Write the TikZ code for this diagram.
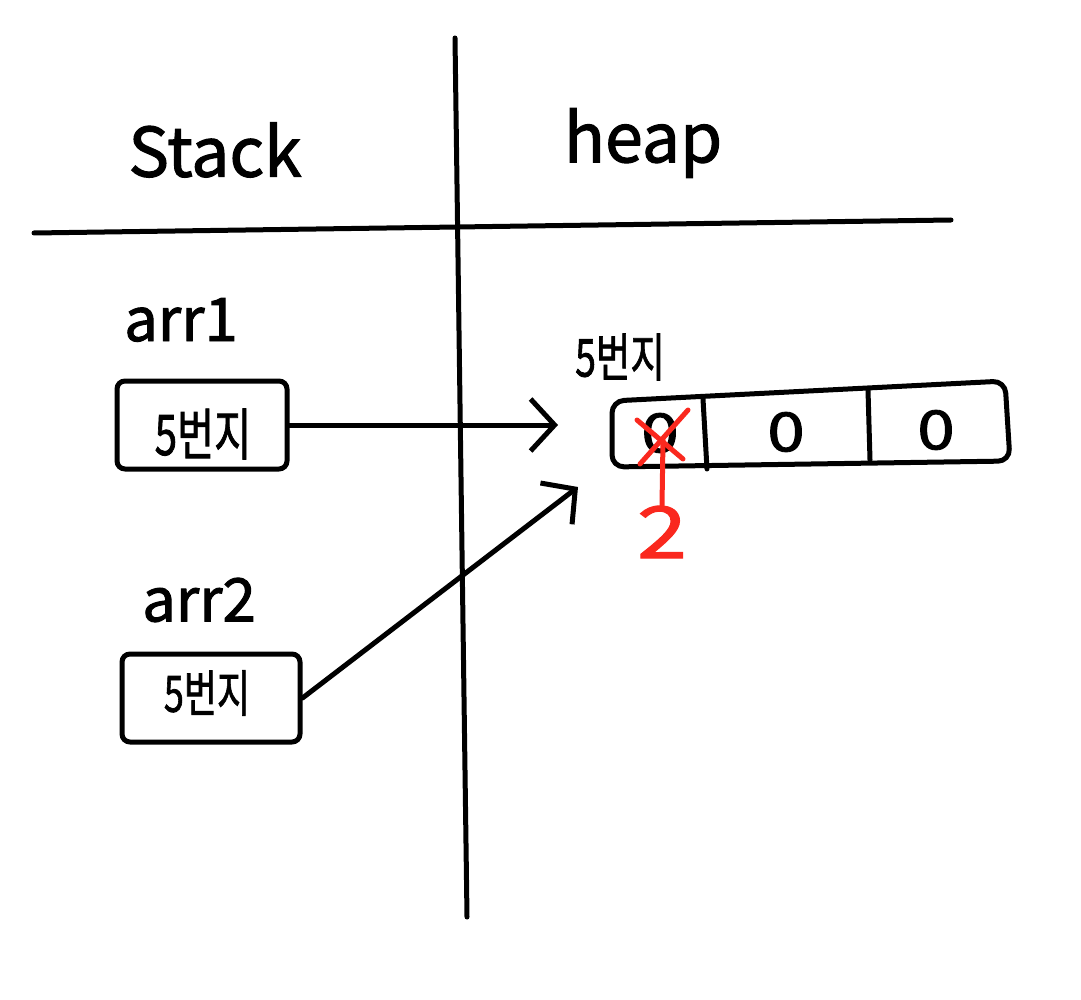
\documentclass[tikz,border=0pt]{standalone}
\usepackage{fontspec}
\usepackage{graphicx}
\setmainfont{Noto Sans CJK KR}
\newfontfamily\hand[FakeBold=1.6]{Noto Sans CJK KR}
\usetikzlibrary{arrows.meta}
\definecolor{handred}{RGB}{250,40,30}
\tikzset{
  ink/.style={line width=5pt, line cap=round, line join=round, black},
  cellbox/.style={draw, ink, rounded corners=8pt, inner sep=0pt},
  bigtxt/.style={font=\hand\fontsize{68}{76}\selectfont, inner sep=0pt},
  lbl/.style={font=\hand\fontsize{60}{66}\selectfont, inner sep=0pt},
  addr/.style={font=\hand\fontsize{56}{60}\selectfont, inner sep=0pt},
  zero/.style={font=\hand\fontsize{54}{58}\selectfont, inner sep=0pt},
  ptr/.style={ink, -{Straight Barb[length=24pt,width=52pt,line width=5pt]}},
  redink/.style={line width=5pt, line cap=round, handred},
}
\newcommand{\narrow}[1]{\scalebox{0.72}[1]{#1}}
\newcommand{\wide}[1]{\scalebox{1.25}[1]{#1}}
\begin{document}
\begin{tikzpicture}[x=1pt,y=-1pt]
\useasboundingbox (0,0) rectangle (1081,1000);
% frame lines
\coordinate (vtop) at (455,38);
\coordinate (vbot) at (467,917);
\coordinate (hl) at (34,233);
\coordinate (hr) at (951,220);
\draw[ink] (vtop) -- (vbot);
\draw[ink] (hl) -- (hr);
% titles
\node[bigtxt] (stack) at (215,150) {Stack};
\node[bigtxt] (heap) at (643,143) {heap};
% stack variables
\node[lbl] (arr1) at (181,320) {arr1};
\node[lbl] (arr2) at (199,600) {arr2};
\node[cellbox, minimum width=170pt, minimum height=88pt] (box1) at (202,425) {};
\node[addr] (t1) at (203,434) {\narrow{5번지}};
\node[cellbox, minimum width=178pt, minimum height=88pt] (box2) at (211,698) {};
\node[addr, font=\hand\fontsize{50}{54}\selectfont] (t2) at (207,693) {\narrow{5번지}};
% heap array
\node[addr, font=\hand\fontsize{52}{56}\selectfont] (haddr) at (620,357) {\narrow{5번지}};
\draw[ink, rounded corners=12pt] (612,401) -- (1005,381) -- (1010,461) -- (612,467) -- cycle;
\draw[ink] (703,399) -- (707,469);
\draw[ink] (868,390) -- (870,460);
\node[zero] (c1) at (660,433) {\wide{0}};
\node[zero] (c2) at (786,432) {\wide{0}};
\node[zero] (c3) at (936,430) {\wide{0}};
% red overwrite
\coordinate (xa) at (637,420);
\coordinate (xb) at (683,459);
\coordinate (xc) at (640,464);
\coordinate (xd) at (688,410);
\draw[redink] (xa) -- (xb);
\draw[redink] (xc) -- (xd);
\node[font=\hand\fontsize{72}{76}\selectfont, inner sep=0pt, text=handred] (two) at (662,532) {\wide{2}};
\draw[redink] (663,440) -- (two.north);
% pointers
\coordinate (h1) at (558,425);
\coordinate (h2) at (578,487);
\draw[ptr] (box1.east) -- (h1);
\draw[ptr] (box2.east) -- (h2);
\end{tikzpicture}
\end{document}
